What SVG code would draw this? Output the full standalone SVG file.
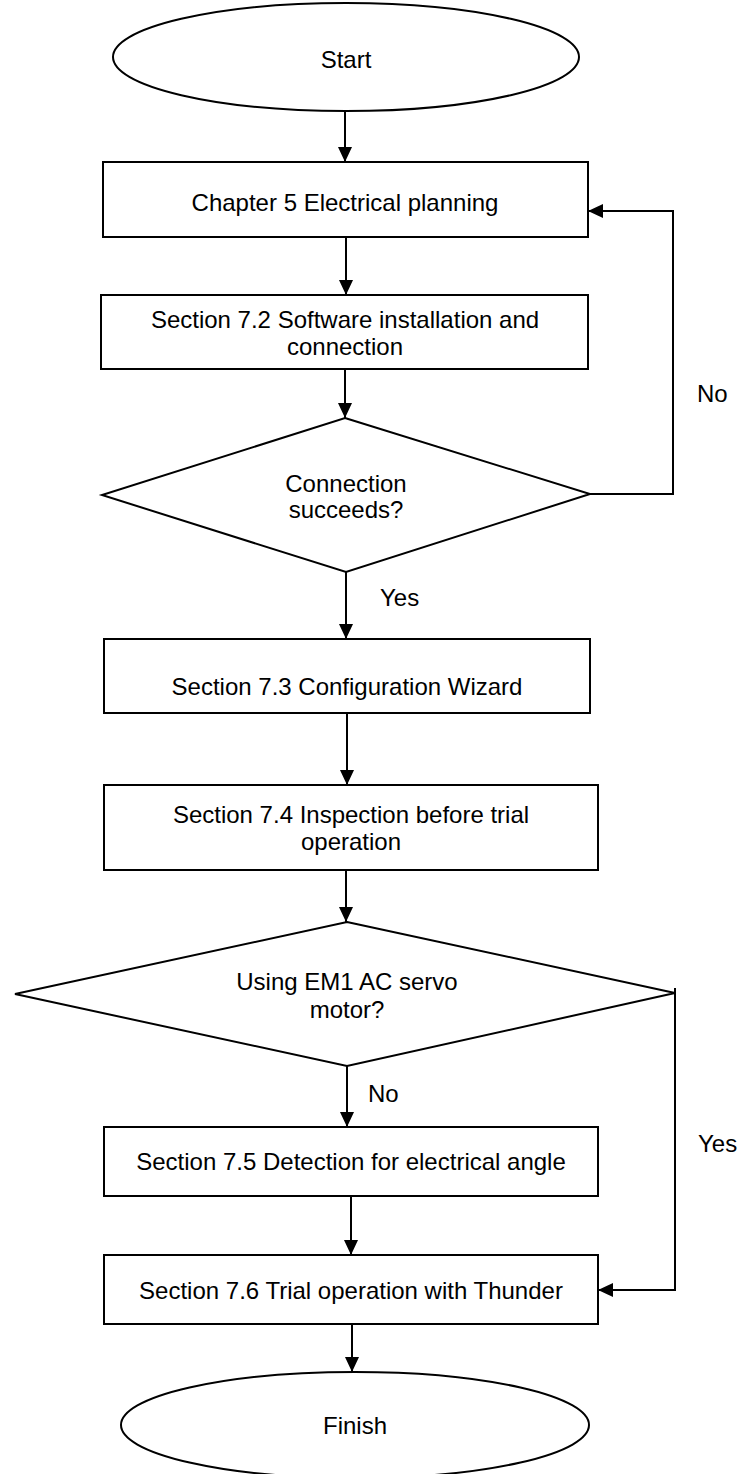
<svg xmlns="http://www.w3.org/2000/svg" width="744" height="1474" viewBox="0 0 744 1474">
<style>
.s{fill:#fff;stroke:#000;stroke-width:2}
.c{fill:none;stroke:#000;stroke-width:2}
text{font-family:"Liberation Sans",Arial,sans-serif;font-size:24px;fill:#000}
.m{text-anchor:middle}
</style>
<defs>
<marker id="ah" markerUnits="userSpaceOnUse" markerWidth="16" markerHeight="14" refX="15" refY="7" orient="auto">
<path d="M0,0 L15,7 L0,14 z" fill="#000"/>
</marker>
</defs>
<rect width="744" height="1474" fill="#fff"/>
<g id="connectors">
<line class="c" x1="345" y1="111" x2="345" y2="162" marker-end="url(#ah)"/>
<line class="c" x1="346" y1="237" x2="346" y2="295" marker-end="url(#ah)"/>
<line class="c" x1="345" y1="369" x2="345" y2="418" marker-end="url(#ah)"/>
<polyline class="c" points="590,494 673,494 673,211 588,211" marker-end="url(#ah)"/>
<line class="c" x1="346" y1="572" x2="346" y2="639" marker-end="url(#ah)"/>
<line class="c" x1="347" y1="713" x2="347" y2="785" marker-end="url(#ah)"/>
<line class="c" x1="346" y1="870" x2="346" y2="922" marker-end="url(#ah)"/>
<line class="c" x1="347" y1="1066" x2="347" y2="1127" marker-end="url(#ah)"/>
<polyline class="c" points="675,988 675,1290 598,1290" marker-end="url(#ah)"/>
<line class="c" x1="351" y1="1196" x2="351" y2="1255" marker-end="url(#ah)"/>
<line class="c" x1="352" y1="1324" x2="352" y2="1372" marker-end="url(#ah)"/>
<text x="697" y="402">No</text>
<text x="380" y="606">Yes</text>
<text x="368" y="1102">No</text>
<text x="698" y="1152">Yes</text>
</g>
<g id="start">
<ellipse class="s" cx="346" cy="57" rx="233" ry="54"/>
<text class="m" x="346" y="68">Start</text>
</g>
<g id="box1">
<rect class="s" x="103" y="162" width="485" height="75"/>
<text class="m" x="345" y="211">Chapter 5 Electrical planning</text>
</g>
<g id="box2">
<rect class="s" x="101" y="295" width="487" height="74"/>
<text class="m" x="345" y="328">Section 7.2 Software installation and</text>
<text class="m" x="345" y="355">connection</text>
</g>
<g id="decision1">
<polygon class="s" points="345,418 590,494 346,572 102,495"/>
<text class="m" x="346" y="492">Connection</text>
<text class="m" x="346" y="518">succeeds?</text>
</g>
<g id="box3">
<rect class="s" x="104" y="639" width="486" height="74"/>
<text class="m" x="347" y="695">Section 7.3 Configuration Wizard</text>
</g>
<g id="box4">
<rect class="s" x="104" y="785" width="494" height="85"/>
<text class="m" x="351" y="823">Section 7.4 Inspection before trial</text>
<text class="m" x="351" y="850">operation</text>
</g>
<g id="decision2">
<polygon class="s" points="347,922 675,993 347,1066 15,994"/>
<text class="m" x="347" y="990">Using EM1 AC servo</text>
<text class="m" x="347" y="1018">motor?</text>
</g>
<g id="box5">
<rect class="s" x="104" y="1127" width="494" height="69"/>
<text class="m" x="351" y="1170">Section 7.5 Detection for electrical angle</text>
</g>
<g id="box6">
<rect class="s" x="104" y="1255" width="494" height="69"/>
<text class="m" x="351" y="1299">Section 7.6 Trial operation with Thunder</text>
</g>
<g id="finish">
<ellipse class="s" cx="355" cy="1425" rx="234" ry="53"/>
<text class="m" x="355" y="1434">Finish</text>
</g>
</svg>
